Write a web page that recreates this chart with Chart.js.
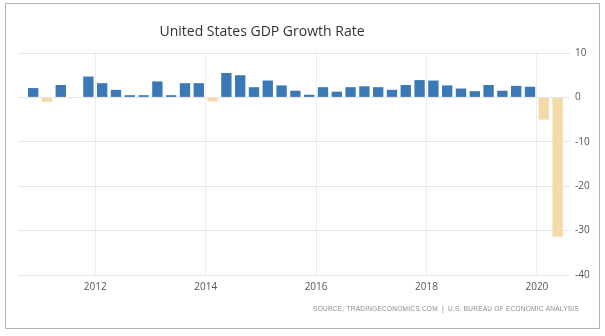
<!DOCTYPE html>
<html>
<head>
<meta charset="utf-8">
<script src="https://cdn.jsdelivr.net/npm/chart.js@4"></script>
<style>
  html, body { margin: 0; padding: 0; background: #fff; }
  #wrap { width: 605px; height: 336px; }
</style>
</head>
<body>
<div id="wrap"><canvas id="gdpChart" width="605" height="336"></canvas></div>
<script>
// Quarterly GDP growth, annualized % change
const quarters = [
  '2010 Q4',
  '2011 Q1', '2011 Q2', '2011 Q3', '2011 Q4',
  '2012 Q1', '2012 Q2', '2012 Q3', '2012 Q4',
  '2013 Q1', '2013 Q2', '2013 Q3', '2013 Q4',
  '2014 Q1', '2014 Q2', '2014 Q3', '2014 Q4',
  '2015 Q1', '2015 Q2', '2015 Q3', '2015 Q4',
  '2016 Q1', '2016 Q2', '2016 Q3', '2016 Q4',
  '2017 Q1', '2017 Q2', '2017 Q3', '2017 Q4',
  '2018 Q1', '2018 Q2', '2018 Q3', '2018 Q4',
  '2019 Q1', '2019 Q2', '2019 Q3', '2019 Q4',
  '2020 Q1', '2020 Q2'
];
const growth = [
  2.1,
  -1.0, 2.8, -0.1, 4.7,
  3.2, 1.7, 0.5, 0.5,
  3.6, 0.5, 3.2, 3.2,
  -0.9, 5.5, 5.0, 2.3,
  3.8, 2.7, 1.5, 0.6,
  2.3, 1.3, 2.3, 2.5,
  2.3, 1.7, 2.8, 3.9,
  3.8, 2.7, 2.0, 1.4,
  2.8, 1.5, 2.6, 2.4,
  -5.0, -31.4
];
const yearTicks = [2012, 2014, 2016, 2018, 2020];
const valueTicks = [10, 0, -10, -20, -30, -40];

const UP = '#3a78b6';
const DOWN = '#f4d9a9';

// bars sit at the middle of their quarter on a continuous year axis
const points = quarters.map((q, i) => {
  const [yr, qq] = q.split(' Q').map(Number);
  return { x: yr + (qq - 0.5) / 4, y: growth[i] };
});

const frame = {
  id: 'frame',
  afterDraw(chart) {
    const ctx = chart.ctx;
    ctx.save();
    ctx.strokeStyle = '#b4b4b4';
    ctx.lineWidth = 1;
    ctx.strokeRect(5.5, 3.5, 594, 325);

    ctx.fillStyle = '#333';
    ctx.font = '14px "Open Sans"';
    ctx.textAlign = 'center';
    ctx.textBaseline = 'middle';
    ctx.fillText('United States GDP Growth Rate', 262, 32);

    ctx.fillStyle = '#8a8a8a';
    ctx.font = '6.5px "Liberation Sans"';
    ctx.letterSpacing = '0.25px';
    ctx.textAlign = 'right';
    ctx.fillText('SOURCE: TRADINGECONOMICS.COM  |  U.S. BUREAU OF ECONOMIC ANALYSIS', 579, 309);
    ctx.restore();
  }
};

new Chart(document.getElementById('gdpChart'), {
  type: 'bar',
  data: {
    datasets: [{
      data: points,
      backgroundColor: growth.map(v => v >= 0 ? UP : DOWN),
      borderWidth: 0,
      barPercentage: 0.75,
      categoryPercentage: 1
    }]
  },
  options: {
    responsive: false,
    animation: false,
    layout: { padding: { left: 18, right: 5, top: 53, bottom: 37 } },
    plugins: { legend: { display: false }, tooltip: { enabled: false } },
    scales: {
      x: {
        type: 'linear',
        min: 2010.6,
        max: 2020.6,
        offset: false,
        afterBuildTicks: s => { s.ticks = yearTicks.map(v => ({ value: v })); },
        afterFit: s => { s.height = 24; },
        grid: { color: '#ececec', drawTicks: false, offset: false },
        border: { display: false },
        ticks: {
          color: '#555',
          font: { family: 'Open Sans', size: 10 },
          padding: 6,
          maxRotation: 0,
          callback: v => String(v)
        }
      },
      y: {
        position: 'right',
        min: -40,
        max: 10,
        afterBuildTicks: s => { s.ticks = valueTicks.map(v => ({ value: v })); },
        afterFit: s => { s.width = 30; },
        grid: { color: '#e6e6e6', drawTicks: false },
        border: { display: false },
        ticks: {
          color: '#555',
          font: { family: 'Open Sans', size: 10 },
          padding: 5
        }
      }
    }
  },
  plugins: [frame]
});
</script>
</body>
</html>
